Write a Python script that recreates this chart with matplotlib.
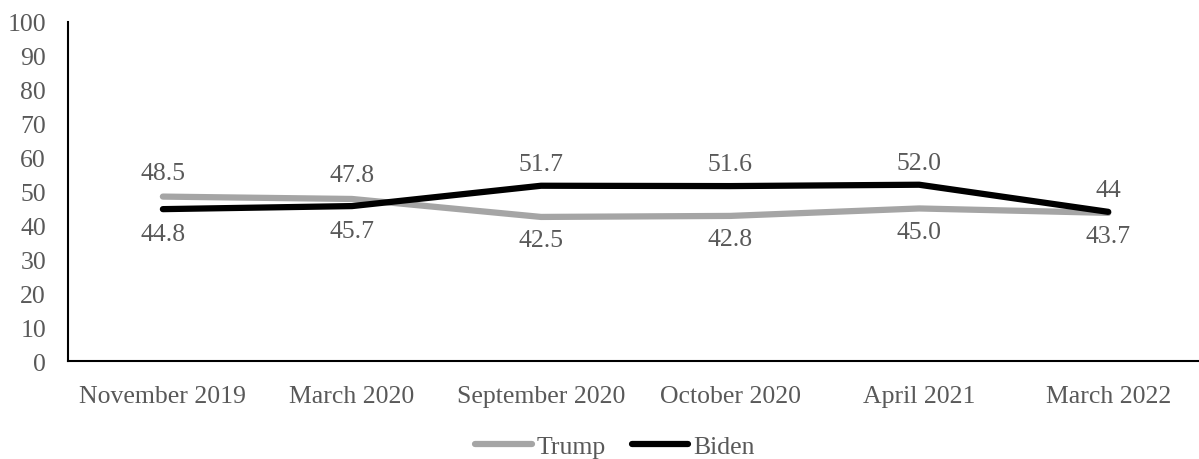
import matplotlib
matplotlib.use("Agg")
import matplotlib.pyplot as plt

categories = ["November 2019", "March 2020", "September 2020", "October 2020", "April 2021", "March 2022"]
trump = [48.5, 47.8, 42.5, 42.8, 45.0, 43.7]
biden = [44.8, 45.7, 51.7, 51.6, 52.0, 44.0]
trump_labels = ["48.5", "47.8", "42.5", "42.8", "45.0", "43.7"]
biden_labels = ["44.8", "45.7", "51.7", "51.6", "52.0", "44"]
yticks = list(range(0, 101, 10))

plt.rcParams['font.family'] = ['Liberation Serif', 'DejaVu Serif']
TC = '#595959'
FS = 18.5

fig = plt.figure(figsize=(11.99, 4.6), dpi=100)
ax = fig.add_axes([0.057, 0.213, 0.943, 0.737])
x = list(range(len(categories)))
ax.plot(x, trump, color='#a5a5a5', lw=4.5, solid_capstyle='round', label='Trump', zorder=2)
ax.plot(x, biden, color='#000000', lw=4.5, solid_capstyle='round', label='Biden', zorder=3)

for i in x:
    t, b = trump[i], biden[i]
    if t >= b:
        ax.annotate(trump_labels[i], (i, t), xytext=(0, 9), textcoords='offset points', ha='center', va='bottom', fontsize=FS, color=TC)
        ax.annotate(biden_labels[i], (i, b), xytext=(0, -10), textcoords='offset points', ha='center', va='top', fontsize=FS, color=TC)
    else:
        ax.annotate(biden_labels[i], (i, b), xytext=(0, 8), textcoords='offset points', ha='center', va='bottom', fontsize=FS, color=TC)
        ax.annotate(trump_labels[i], (i, t), xytext=(0, -9), textcoords='offset points', ha='center', va='top', fontsize=FS, color=TC)

ax.set_xlim(-0.5, 5.48)
ax.set_ylim(0, 100)
ax.set_yticks(yticks)
ax.set_xticks(x)
ax.set_xticklabels(categories)
ax.tick_params(axis='both', length=0, labelsize=FS, labelcolor=TC)
ax.tick_params(axis='y', pad=16)
ax.tick_params(axis='x', pad=17)
for s in ['top', 'right']:
    ax.spines[s].set_visible(False)
for s in ['left', 'bottom']:
    ax.spines[s].set_linewidth(1.5)
    ax.spines[s].set_color('black')

leg = fig.legend(*ax.get_legend_handles_labels(), loc='center', bbox_to_anchor=(0.513, 0.028), ncol=2, frameon=False,
                 fontsize=FS, handlelength=2.2, handletextpad=0.2, columnspacing=1.0, labelcolor=TC,
                 borderpad=0, borderaxespad=0)
fig.savefig('out.png', dpi=100)
